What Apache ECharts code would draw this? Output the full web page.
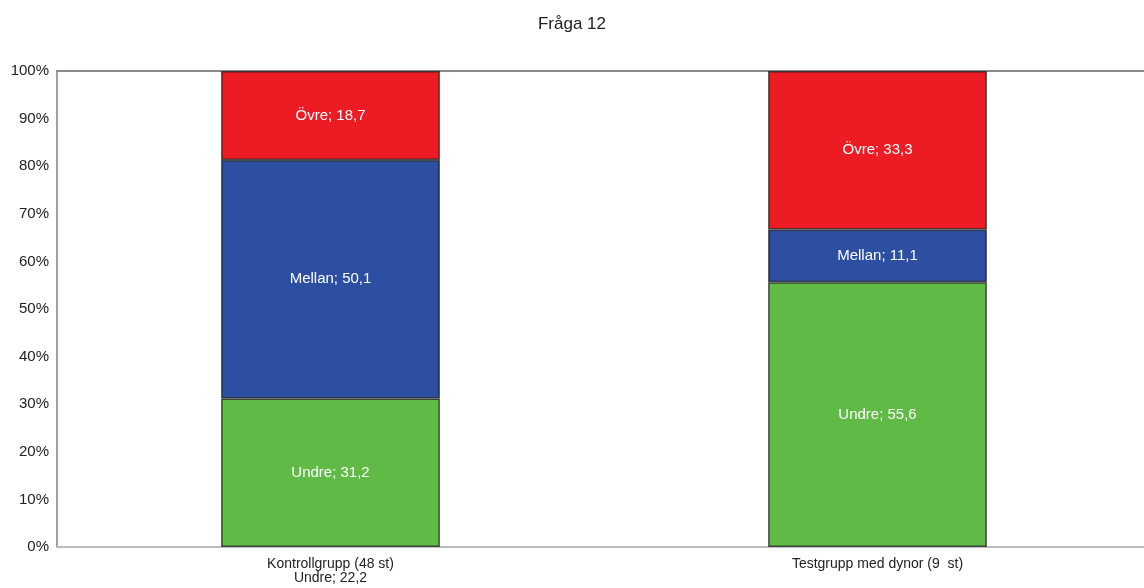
<!DOCTYPE html>
<html>
<head>
<meta charset="utf-8">
<title>Fråga 12</title>
<script src="https://cdn.jsdelivr.net/npm/echarts@6/dist/echarts.min.js"></script>
<style>
  html, body { margin: 0; padding: 0; background: #fff; }
  #chart { width: 1144px; height: 588px; }
</style>
</head>
<body>
<div id="chart"></div>
<script>
// Groups and stacked shares (percent)
const categories = ['Kontrollgrupp (48 st)\nUndre; 22,2', 'Testgrupp med dynor (9  st)'];
const undre = [31.2, 55.6];
const mellan = [50.1, 11.1];
const ovre = [18.7, 33.3];
const yTicks = [0, 10, 20, 30, 40, 50, 60, 70, 80, 90, 100];

const font = '"Liberation Sans", Arial, sans-serif';

function fmt(v) { return String(v).replace('.', ','); }

function segment(name, data, color) {
  return {
    name: name,
    type: 'bar',
    stack: 'total',
    data: data,
    barWidth: '40%',
    itemStyle: {
      color: color,
      borderColor: 'rgba(30,30,30,0.75)',
      borderWidth: 1.5
    },
    label: {
      show: true,
      position: 'inside',
      color: '#fff',
      fontFamily: font,
      fontSize: 15,
      formatter: p => name + '; ' + fmt(p.value)
    }
  };
}

const chart = echarts.init(document.getElementById('chart'));
chart.setOption({
  animation: false,
  title: {
    text: 'Fråga 12',
    left: 'center',
    top: 11,
    textStyle: { fontFamily: font, fontSize: 17, fontWeight: 'normal', color: '#222' }
  },
  // plot area runs slightly past the right edge of the canvas
  grid: {
    left: 57, top: 71, width: 1094, height: 476,
    outerBoundsMode: 'none',
    containLabel: false
  },
  xAxis: [{
    type: 'category',
    data: categories,
    axisLine: { show: true, lineStyle: { color: '#bdbdbd', width: 2 } },
    axisTick: { show: false },
    axisLabel: { color: '#222', fontFamily: font, fontSize: 14, lineHeight: 14, margin: 10 }
  }, {
    // top frame line at 100%
    type: 'category',
    position: 'top',
    data: categories,
    axisLine: { show: true, lineStyle: { color: '#8a8a8a', width: 2 } },
    axisTick: { show: false },
    axisLabel: { show: false }
  }],
  yAxis: {
    type: 'value',
    min: yTicks[0],
    max: yTicks[yTicks.length - 1],
    interval: 10,
    axisLine: { show: true, lineStyle: { color: '#a0a0a0', width: 2 } },
    axisTick: { show: false },
    splitLine: { show: false },
    axisLabel: {
      color: '#222', fontFamily: font, fontSize: 15, margin: 8,
      formatter: v => v + '%'
    }
  },
  series: [
    segment('Undre', undre, '#5fba46'),
    segment('Mellan', mellan, '#2c4fa1'),
    segment('Övre', ovre, '#ed1c24')
  ]
});
</script>
</body>
</html>
